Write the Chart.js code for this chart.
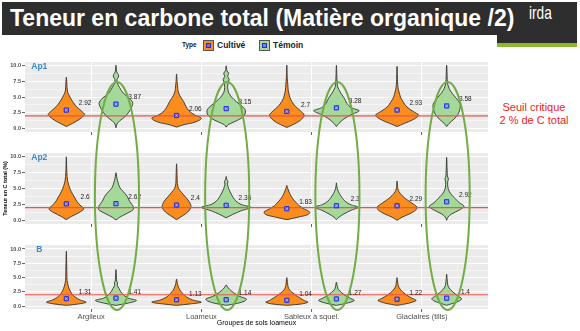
<!DOCTYPE html>
<html><head><meta charset="utf-8">
<script src="https://cdn.jsdelivr.net/npm/chart.js@4.4.1/dist/chart.umd.min.js"></script>
<style>
html,body{margin:0;padding:0;background:#fff;width:580px;height:331px;overflow:hidden;font-family:"Liberation Sans",Arial,sans-serif;}
.abs{position:absolute;}
canvas{position:absolute;left:0;}
</style></head><body>
<div class="abs" style="left:2px;top:2px;width:575px;height:33px;background:#2e2e2e"></div>
<div class="abs" style="left:497px;top:35px;width:80px;height:8px;background:#2e2e2e"></div>
<div class="abs" style="left:497px;top:43px;width:80px;height:4px;background:#8db92e"></div>
<div class="abs" style="left:10px;top:6.5px;font:bold 23px/23px 'Liberation Sans',Arial,sans-serif;color:#fff;white-space:nowrap">Teneur en carbone total (Matière organique /2)</div>
<div class="abs" style="left:529px;top:3px;font:19px/19px 'Liberation Sans',Arial,sans-serif;color:#fff;white-space:nowrap;transform:scaleX(0.72);transform-origin:0 0">irda</div>

<div class="abs" style="left:182px;top:40px;font:bold 6.5px/10px 'Liberation Sans',Arial;color:#222">Type</div>
<div class="abs" style="left:203px;top:40px;width:9px;height:9px;background:#fb8c1e;border:0.8px solid #555"><div style="position:absolute;left:2px;top:2px;width:3px;height:3px;border:1px solid #1f2fe0;background:rgba(60,60,255,0.5)"></div></div>
<div class="abs" style="left:217px;top:40px;font:bold 8.5px/10px 'Liberation Sans',Arial;color:#222">Cultivé</div>
<div class="abs" style="left:259px;top:40px;width:9px;height:9px;background:#a5d99a;border:0.8px solid #555"><div style="position:absolute;left:2px;top:2px;width:3px;height:3px;border:1px solid #1f2fe0;background:rgba(60,60,255,0.5)"></div></div>
<div class="abs" style="left:273px;top:40px;font:bold 8.5px/10px 'Liberation Sans',Arial;color:#222">Témoin</div>

<div class="abs" style="left:494px;top:101px;width:80px;text-align:center;font:11px/13.4px 'Liberation Sans',Arial;color:#ee2222">Seuil critique<br>2 % de C total</div>

<canvas id="c0" width="493" height="80" style="top:57px"></canvas>
<canvas id="c1" width="493" height="81" style="top:148px"></canvas>
<canvas id="c2" width="493" height="87" style="top:240px"></canvas>
<canvas id="ov" width="580" height="331" style="top:0;pointer-events:none"></canvas>

<script>
// ---------- DATA ----------
const categories = ['Argileux', 'Loameux', 'Sableux à squel.', 'Glaciaires (tills)'];
const horizons = ['Ap1', 'Ap2', 'B'];
const types = ['Cultivé', 'Témoin'];
const seuil = 2;
const yMajorTicks = [0, 2.5, 5, 7.5, 10];
const yMinorTicks = [1.25, 3.75, 6.25, 8.75];

const meanAp1Cultive = [2.92, 2.06, 2.7, 2.93];
const meanAp1Temoin  = [3.87, 3.15, 3.28, 3.58];
const meanAp2Cultive = [2.6, 2.4, 1.83, 2.29];
const meanAp2Temoin  = [2.62, 2.36, 2.3, 2.92];
const meanBCultive   = [1.31, 1.13, 1.04, 1.22];
const meanBTemoin    = [1.41, 1.14, 1.27, 1.4];

// violin density profiles: [C total %, relative half-width]
const violinAp1Cultive = [
  [[0.3,0],[0.8,0.25],[1.5,0.55],[2.2,0.73],[2.8,0.6],[3.5,0.4],[4.3,0.25],[5.2,0.12],[5.8,0.05],[6.5,0.03],[8.2,0]],
  [[0.2,0],[0.6,0.3],[1.0,0.75],[1.6,1.0],[2.2,0.7],[2.8,0.5],[3.5,0.38],[4.3,0.28],[5.3,0.12],[6.0,0.06],[6.8,0.04],[7.5,0.02],[8.7,0]],
  [[0.15,0],[0.6,0.25],[1.3,0.55],[2.1,0.7],[2.8,0.55],[3.5,0.35],[4.3,0.2],[5.0,0.12],[6.0,0.06],[7.0,0.04],[8.0,0.02],[10.1,0]],
  [[0.3,0],[0.8,0.3],[1.4,0.65],[2.1,0.87],[2.7,0.65],[3.4,0.4],[4.2,0.25],[5.0,0.14],[5.8,0.08],[6.5,0.04],[7.5,0.02],[9.9,0]]
];
const violinAp1Temoin = [
  [[0.1,0],[0.7,0.04],[1.2,0.15],[2.0,0.4],[3.0,0.58],[4.0,0.68],[4.8,0.55],[5.6,0.3],[6.5,0.15],[7.2,0.06],[7.8,0.04],[8.2,0.1],[8.6,0.1],[9.0,0.03],[10.1,0]],
  [[0.2,0],[0.6,0.08],[1.0,0.3],[1.6,0.6],[2.3,0.76],[2.9,0.77],[3.5,0.65],[4.3,0.4],[5.0,0.22],[5.7,0.1],[6.5,0.06],[7.3,0.08],[7.8,0.12],[8.3,0.06],[8.8,0.1],[9.2,0.03],[10.0,0]],
  [[0.3,0],[0.8,0.1],[1.5,0.3],[2.2,0.6],[2.8,0.92],[3.3,0.6],[4.0,0.42],[4.8,0.32],[5.5,0.2],[6.2,0.1],[6.8,0.04],[8.0,0.02],[10.1,0]],
  [[0.3,0],[0.8,0.1],[1.5,0.3],[2.2,0.45],[3.0,0.53],[3.8,0.55],[4.5,0.45],[5.2,0.3],[6.0,0.15],[6.8,0.06],[7.5,0.03],[10.1,0]]
];
const violinAp2Cultive = [
  [[0.1,0],[0.6,0.2],[1.2,0.5],[1.8,0.7],[2.4,0.55],[3.0,0.42],[3.7,0.32],[4.5,0.2],[5.5,0.1],[6.3,0.05],[7.5,0.02],[10.0,0]],
  [[0.1,0],[0.5,0.15],[1.0,0.35],[1.6,0.52],[2.3,0.58],[3.0,0.5],[3.7,0.35],[4.4,0.2],[5.0,0.08],[5.8,0.03],[7.0,0.02],[8.9,0]],
  [[0.1,0],[0.5,0.45],[0.9,0.85],[1.3,0.92],[1.8,0.7],[2.3,0.5],[2.9,0.35],[3.5,0.22],[4.2,0.12],[5.0,0.04],[5.5,0]],
  [[0.0,0],[0.5,0.2],[1.0,0.5],[1.6,0.75],[2.1,0.8],[2.7,0.6],[3.3,0.38],[3.9,0.2],[4.5,0.08],[5.0,0.03],[6.2,0]]
];
const violinAp2Temoin = [
  [[0.05,0],[0.5,0.15],[1.0,0.4],[1.7,0.7],[2.3,0.68],[3.0,0.55],[3.8,0.45],[4.5,0.3],[5.2,0.15],[6.0,0.08],[6.6,0.04],[7.5,0]],
  [[0.4,0],[0.9,0.25],[1.5,0.6],[2.05,1.0],[2.5,0.6],[3.0,0.4],[3.6,0.28],[4.3,0.18],[5.0,0.1],[5.7,0.05],[6.1,0.07],[6.4,0.03],[6.9,0]],
  [[0.1,0],[0.5,0.1],[1.0,0.3],[1.6,0.6],[2.05,0.88],[2.5,0.55],[3.0,0.35],[3.6,0.22],[4.2,0.12],[4.8,0.05],[5.3,0.02],[5.9,0]],
  [[0.0,0],[0.5,0.05],[1.0,0.2],[1.6,0.5],[2.2,0.7],[2.8,0.5],[3.4,0.35],[4.0,0.2],[4.6,0.1],[5.2,0.05],[6.0,0.04],[6.5,0.07],[7.0,0.03],[9.9,0]]
];
const violinBCultive = [
  [[0.15,0],[0.4,0.5],[0.7,0.8],[1.1,0.55],[1.6,0.35],[2.2,0.22],[2.8,0.14],[3.5,0.08],[4.5,0.03],[6.0,0.02],[9.6,0]],
  [[0.15,0],[0.4,0.55],[0.7,1.0],[1.1,0.65],[1.6,0.4],[2.2,0.25],[2.8,0.14],[3.4,0.07],[4.0,0.03],[4.75,0]],
  [[0.15,0],[0.4,0.6],[0.7,0.85],[1.0,0.7],[1.4,0.55],[1.8,0.4],[2.3,0.25],[2.8,0.12],[3.4,0.05],[5.0,0]],
  [[0.15,0],[0.5,0.45],[1.0,0.77],[1.4,0.6],[1.9,0.4],[2.4,0.25],[3.0,0.12],[3.6,0.05],[5.0,0]]
];
const violinBTemoin = [
  [[0.15,0],[0.5,0.45],[1.0,0.83],[1.4,0.5],[1.9,0.32],[2.5,0.2],[3.1,0.12],[3.6,0.06],[4.1,0.06],[4.4,0.03],[6.4,0]],
  [[0.15,0],[0.5,0.45],[0.9,0.75],[1.25,0.82],[1.7,0.55],[2.2,0.35],[2.7,0.2],[3.2,0.08],[3.7,0]],
  [[0.15,0],[0.5,0.4],[1.0,0.72],[1.4,0.55],[1.9,0.35],[2.4,0.2],[2.9,0.08],[3.4,0.04],[4.2,0]],
  [[0.15,0],[0.5,0.25],[0.9,0.5],[1.3,0.6],[1.8,0.45],[2.3,0.3],[2.9,0.15],[3.5,0.06],[4.2,0.03],[5.6,0]]
];

// ---------- STYLE / LAYOUT ----------
const FONT = "'Liberation Sans', Arial, sans-serif";
Chart.defaults.font.family = FONT;
const X_MIN = 0.4, X_MAX = 4.6;
const DODGE = [-0.225, 0.225];
const HALF = 0.225;
const FILLS = ['#fb8c1e', '#a5d99a'];

const panels = [
  {id:'c0', top:57,  name:horizons[0], meanC:meanAp1Cultive, meanT:meanAp1Temoin, vC:violinAp1Cultive, vT:violinAp1Temoin, ymin:-0.58, ymax:10.6, showX:false, xh:4, ytitle:false},
  {id:'c1', top:148, name:horizons[1], meanC:meanAp2Cultive, meanT:meanAp2Temoin, vC:violinAp2Cultive, vT:violinAp2Temoin, ymin:-0.58, ymax:10.6, showX:false, xh:4, ytitle:true},
  {id:'c2', top:240, name:horizons[2], meanC:meanBCultive,   meanT:meanBTemoin,   vC:violinBCultive,   vT:violinBTemoin,   ymin:-0.49, ymax:10.7, showX:true,  xh:18, ytitle:false}
];

function violinDataset(knots, cx, fill) {
  const right = knots.map(([y, w]) => ({x: cx + w * HALF, y}));
  const left = knots.slice(1, -1).reverse().map(([y, w]) => ({x: cx - w * HALF, y}));
  return {type:'line', data:[...right, ...left, right[0]], fill:'shape', backgroundColor:fill,
          borderColor:'#333', borderWidth:0.9, pointRadius:0, tension:0.3, order:5};
}

const charts = panels.map(p => {
  const datasets = [];
  [p.vC, p.vT].forEach((violins, t) => {
    violins.forEach((knots, i) => datasets.push(violinDataset(knots, i + 1 + DODGE[t], FILLS[t])));
  });
  datasets.push({type:'line', data:[{x:X_MIN, y:seuil}, {x:X_MAX, y:seuil}], borderColor:'#f0524a',
                 borderWidth:1.1, pointRadius:0, fill:false, order:4});
  [p.meanC, p.meanT].forEach((means, t) => {
    const pts = means.map((m, i) => ({x: i + 1 + DODGE[t], y: m}));
    datasets.push({type:'line', showLine:false, data:pts, pointStyle:'rect', pointRadius:3,
                   pointBackgroundColor:'rgba(55,55,255,0.55)', pointBorderColor:'#2230e8', pointBorderWidth:1, order:2});
    datasets.push({type:'line', showLine:false, data:pts, pointStyle:'crossRot', pointRadius:1.8,
                   pointBorderColor:'rgba(215,215,255,0.85)', pointBorderWidth:0.7, order:1});
  });

  const deco = {
    id:'deco',
    beforeDraw(chart) {
      const {ctx, chartArea:a} = chart;
      ctx.save(); ctx.fillStyle = '#ebebeb';
      ctx.fillRect(a.left, a.top, a.right - a.left, a.bottom - a.top); ctx.restore();
    },
    afterDatasetsDraw(chart) {
      const {ctx, chartArea:a, scales:{x, y}} = chart;
      ctx.save();
      ctx.font = '6.5px ' + FONT; ctx.fillStyle = '#222';
      ctx.textAlign = 'center'; ctx.textBaseline = 'middle';
      [p.meanC, p.meanT].forEach((means, t) => means.forEach((m, i) => {
        ctx.fillText(String(m), x.getPixelForValue(i + 1 + DODGE[t] + 0.17), y.getPixelForValue(m + 1.05));
      }));
      ctx.font = 'bold 8.5px ' + FONT; ctx.fillStyle = '#3d86c8';
      ctx.textBaseline = 'alphabetic';
      ctx.fillText(p.name, a.left + 14.3, a.top + 6.6);
      ctx.restore();
    }
  };

  return new Chart(document.getElementById(p.id), {
    type:'line',
    data:{datasets},
    plugins:[deco],
    options:{
      responsive:false, animation:false, devicePixelRatio:1,
      layout:{padding:0},
      plugins:{legend:{display:false}, tooltip:{enabled:false}},
      scales:{
        x:{type:'linear', min:X_MIN, max:X_MAX,
           afterBuildTicks:s => { s.ticks = categories.map((c, i) => ({value:i + 1})); },
           afterFit:s => { s.height = p.xh; },
           ticks:{display:p.showX, autoSkip:false, maxRotation:0, padding:0, color:'#4d4d4d',
                  font:{size:7.5}, callback:v => categories[v - 1] || ''},
           grid:{color:'#ffffff', lineWidth:1.1, drawTicks:true, tickLength:3, tickColor:'#333', tickWidth:0.8},
           border:{display:false},
           title:{display:p.showX, text:'Groupes de sols loameux', color:'#000', font:{size:7}, padding:{top:0, bottom:0}}
        },
        y:{type:'linear', min:p.ymin, max:p.ymax,
           afterBuildTicks:s => { s.ticks = [...yMajorTicks, ...yMinorTicks].sort((a, b) => a - b).map(v => ({value:v})); },
           afterFit:s => { s.width = 25; },
           ticks:{autoSkip:false, padding:1, color:'#4d4d4d', font:{size:5.5, weight:'bold'},
                  callback:v => yMajorTicks.includes(v) ? v.toFixed(1) : ''},
           grid:{color:'#ffffff', lineWidth:c => yMajorTicks.includes(c.tick.value) ? 1.1 : 0.5,
                 tickColor:c => yMajorTicks.includes(c.tick.value) ? '#333' : 'rgba(0,0,0,0)', tickLength:3, tickWidth:0.8},
           border:{display:false},
           title:{display:p.ytitle, text:'Teneur en C total (%)', color:'#000', font:{size:5.5, weight:'bold'}, padding:{top:2.5, bottom:0}}
        }
      }
    }
  });
});

// ---------- annotation ellipses around the Témoin violins ----------
const ELLIPSE_TOP = 7.4, ELLIPSE_BOTTOM = -0.65, ELLIPSE_HALF = 0.2;
const ov = document.getElementById('ov').getContext('2d');
ov.strokeStyle = '#70ad47'; ov.lineWidth = 2;
categories.forEach((c, i) => {
  const xs = charts[0].scales.x;
  const cx = xs.getPixelForValue(i + 1 + DODGE[1]) + 1;
  const rx = xs.getPixelForValue(i + 1 + DODGE[1] + ELLIPSE_HALF) - xs.getPixelForValue(i + 1 + DODGE[1]);
  const top = panels[0].top + charts[0].scales.y.getPixelForValue(ELLIPSE_TOP);
  const bottom = panels[2].top + charts[2].scales.y.getPixelForValue(ELLIPSE_BOTTOM);
  ov.beginPath();
  ov.ellipse(cx, (top + bottom) / 2, rx, (bottom - top) / 2, 0, 0, Math.PI * 2);
  ov.stroke();
});
</script>
</body></html>
